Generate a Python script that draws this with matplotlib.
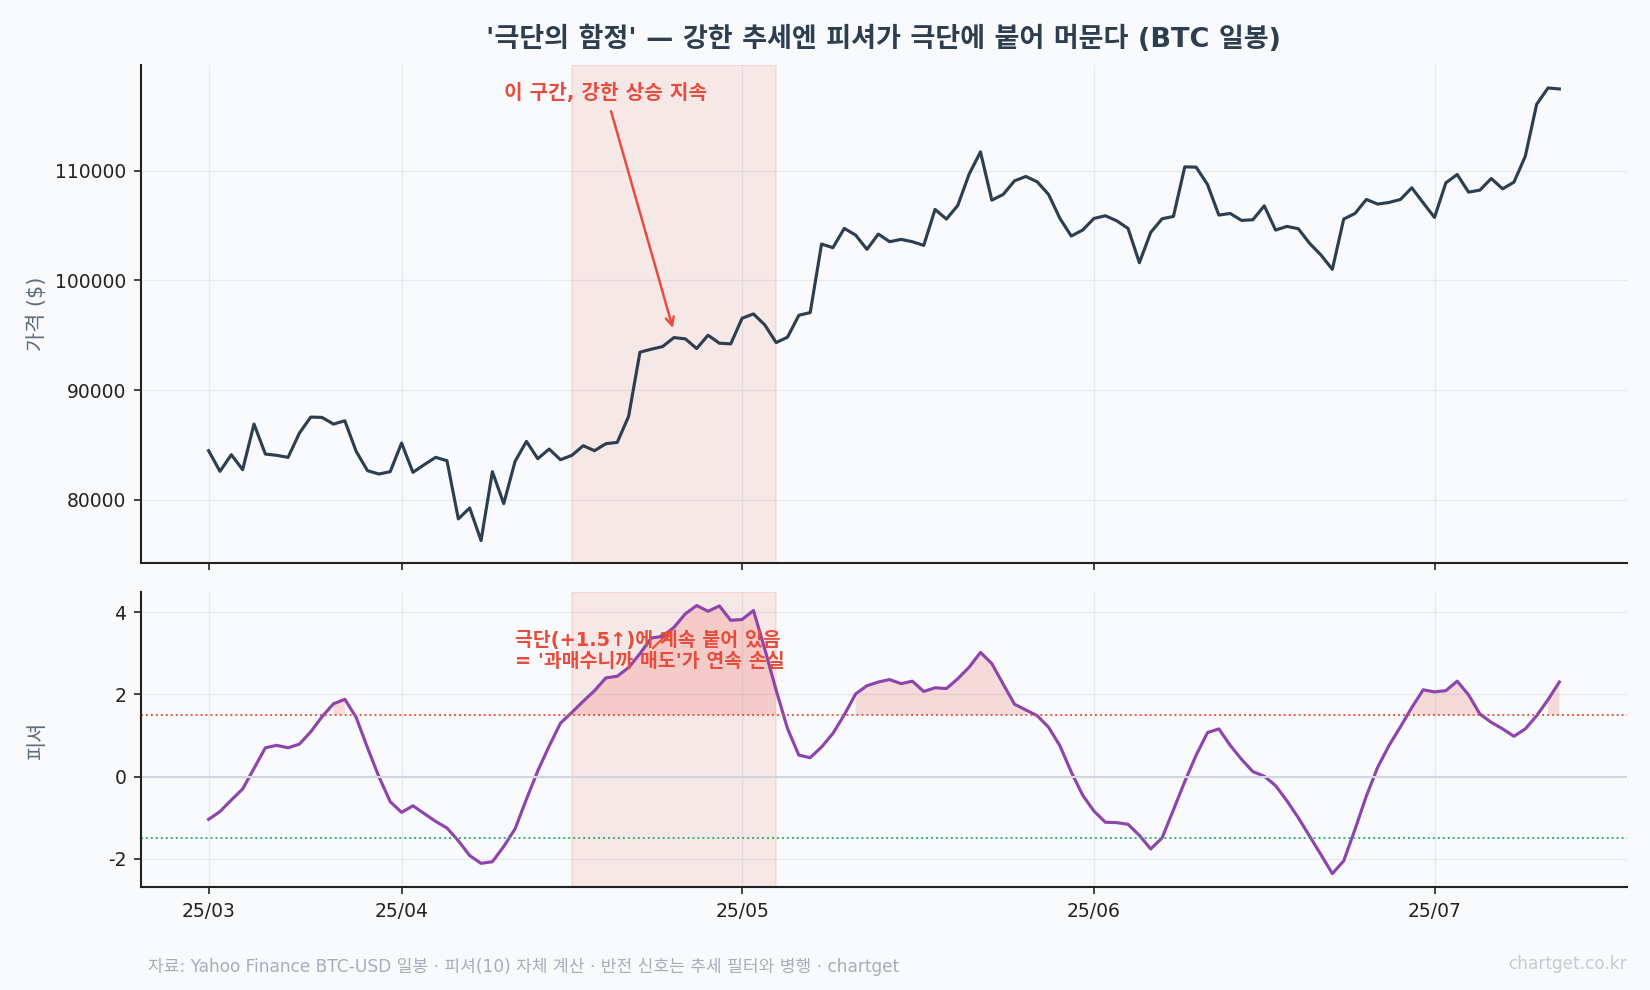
import numpy as np
import pandas as pd
import matplotlib
matplotlib.use("Agg")
import matplotlib.pyplot as plt

plt.rcParams['font.family'] = ['DejaVu Sans', 'Noto Sans CJK KR']
plt.rcParams['axes.unicode_minus'] = False

# BTC daily close, 2025-03-15 .. 2025-07-12
start_date = "2025-03-15"
price = [
    84464, 82581, 84100, 82733, 86894, 84160, 84040, 83857, 86074, 87532,
    87501, 86894, 87197, 84404, 82642, 82338, 82551, 85163, 82490, 83189,
    83857, 83553, 78238, 79241, 76264, 82551, 79636, 83493, 85315, 83735,
    84616, 83644, 84039, 84920, 84464, 85102, 85224, 87593, 93454, 93727,
    93970, 94790, 94669, 93788, 95003, 94274, 94213, 96552, 96946, 95944,
    94335, 94821, 96825, 97068, 103324, 102990, 104752, 104144, 102838, 104235,
    103537, 103750, 103537, 103202, 106483, 105602, 106847, 109700, 111735, 107333,
    107850, 109095, 109490, 109004, 107850, 105663, 104053, 104600, 105663, 105906,
    105450, 104752, 101623, 104387, 105632, 105845, 110370, 110340, 108760, 105966,
    106118, 105480, 105541, 106817, 104600, 104934, 104722, 103385, 102322, 101016,
    105602, 106118, 107394, 106969, 107121, 107394, 108457, 107090, 105754, 108913,
    109672, 108062, 108244, 109308, 108366, 108973, 111342, 116080, 117568, 117477,
]
# Fisher transform (10)
fisher = [
    -1.04, -0.85, -0.57, -0.30, 0.20, 0.70, 0.76, 0.70, 0.79, 1.09,
    1.46, 1.77, 1.88, 1.44, 0.70, 0.00, -0.61, -0.87, -0.71, -0.90,
    -1.09, -1.25, -1.56, -1.92, -2.11, -2.07, -1.70, -1.27, -0.55, 0.14,
    0.74, 1.30, 1.56, 1.83, 2.09, 2.40, 2.44, 2.65, 2.99, 3.37,
    3.41, 3.63, 3.96, 4.16, 4.02, 4.15, 3.80, 3.82, 4.04, 3.10,
    2.10, 1.17, 0.52, 0.46, 0.72, 1.05, 1.50, 2.01, 2.21, 2.30,
    2.36, 2.26, 2.32, 2.07, 2.16, 2.14, 2.38, 2.66, 3.02, 2.75,
    2.25, 1.76, 1.62, 1.48, 1.20, 0.75, 0.11, -0.45, -0.84, -1.11,
    -1.12, -1.16, -1.43, -1.76, -1.49, -0.81, -0.12, 0.52, 1.07, 1.16,
    0.76, 0.42, 0.12, 0.01, -0.22, -0.59, -1.00, -1.45, -1.90, -2.36,
    -2.05, -1.28, -0.47, 0.23, 0.76, 1.21, 1.68, 2.11, 2.06, 2.09,
    2.32, 1.99, 1.52, 1.32, 1.16, 0.98, 1.16, 1.48, 1.87, 2.30,
]
tick_dates = ["2025-03-15", "2025-04-01", "2025-05-01", "2025-06-01", "2025-07-01"]
tick_labels = ["25/03", "25/04", "25/05", "25/06", "25/07"]
trap_start, trap_end = "2025-04-16", "2025-05-04"
upper, lower = 1.5, -1.5

dates = pd.date_range(start_date, periods=len(price), freq="D")
fisher = np.array(fisher)

BG = '#f9fafc'
RED = '#e74c3c'
fig, (ax1, ax2) = plt.subplots(2, 1, figsize=(11, 6.6), dpi=150, sharex=True,
                               gridspec_kw={'height_ratios': [498, 295]})
fig.patch.set_facecolor(BG)
fig.subplots_adjust(left=0.0855, right=0.986, top=0.934, bottom=0.104, hspace=0.073)

for ax in (ax1, ax2):
    ax.set_facecolor(BG)
    ax.grid(True, color='#e3e6ea', linewidth=0.6, alpha=0.8)
    ax.set_axisbelow(True)
    for s in ('top', 'right'):
        ax.spines[s].set_visible(False)
    for s in ('left', 'bottom'):
        ax.spines[s].set_color('#222222')
        ax.spines[s].set_linewidth(1.0)
    ax.tick_params(labelsize=9, colors='#222222')
    ax.axvspan(pd.Timestamp(trap_start), pd.Timestamp(trap_end), color=RED, alpha=0.1)

# price panel
ax1.plot(dates, price, color='#2c3e50', linewidth=1.5)
ax1.set_ylabel("가격 ($)", fontsize=10, color='#5d6d7e')
ax1.annotate("이 구간, 강한 상승 지속", xy=(dates[41], 95300), xytext=(dates[35], 117100),
             color=RED, fontsize=9.7, fontweight='bold', ha='center', va='center',
             arrowprops=dict(arrowstyle='->', color=RED, lw=1.2))
ax1.set_title("'극단의 함정' — 강한 추세엔 피셔가 극단에 붙어 머문다 (BTC 일봉)",
              fontsize=13, fontweight='bold', color='#2c3e50', pad=9)

# fisher panel
ax2.plot(dates, fisher, color='#8e44ad', linewidth=1.5)
ax2.axhline(0, color='#cfd6de', linewidth=1.0)
ax2.axhline(upper, color=RED, linestyle=':', linewidth=0.9)
ax2.axhline(lower, color='#27ae60', linestyle=':', linewidth=0.9)
ax2.fill_between(dates, fisher, upper, where=fisher > upper, color=RED, alpha=0.18, linewidth=0)
ax2.set_ylabel("피셔", fontsize=10, color='#5d6d7e')
ax2.set_yticks([-2, 0, 2, 4])
ax2.annotate("극단(+1.5↑)에 계속 붙어 있음\n= '과매수니까 매도'가 연속 손실",
             xy=(dates[41], fisher[41]), xytext=(dates[27], 3.05),
             color=RED, fontsize=9.3, fontweight='bold', ha='left', va='center',
             linespacing=1.1,
             arrowprops=dict(arrowstyle='->', color=RED, lw=1.0))

ax2.set_xticks(pd.to_datetime(tick_dates))
ax2.set_xticklabels(tick_labels)
fig.align_ylabels([ax1, ax2])

fig.text(0.0897, 0.023, "자료: Yahoo Finance BTC-USD 일봉 · 피셔(10) 자체 계산 · 반전 신호는 추세 필터와 병행 · chartget",
         fontsize=8.2, color='#a6adbb', ha='left', va='center')
fig.text(0.986, 0.026, "chartget.co.kr", fontsize=8.2, color='#c5cad3', ha='right', va='center')

fig.savefig("out.png", dpi=150, facecolor=BG)
